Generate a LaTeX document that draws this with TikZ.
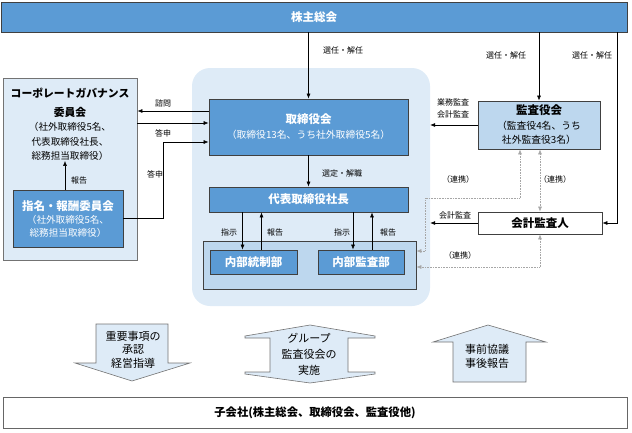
\documentclass[tikz,border=0pt]{standalone}
\usepackage{fontspec}
\setmainfont{Noto Sans CJK JP}
\usetikzlibrary{arrows.meta,calc}

\definecolor{blueD}{HTML}{5B9BD5}
\definecolor{blueL}{HTML}{DEEBF7}
\definecolor{blueM}{HTML}{BDD7EE}
\definecolor{edgeG}{HTML}{404040}
\definecolor{linkG}{HTML}{A6A6A6}

\begin{document}
\begin{tikzpicture}[x=1pt, y=-1pt,
  box/.style={rectangle, draw=edgeG, line width=0.8pt, align=center, inner sep=0pt, font=\fontsize{11.5}{13}\selectfont\bfseries},
  dark/.style={box, fill=blueD, text=white},
  pale/.style={box, fill=blueM, text=black},
  arr/.style={-{Latex[length=5pt,width=4pt]}, line width=0.6pt},
  link/.style={{Latex[length=5pt,width=4pt]}-{Latex[length=5pt,width=4pt]}, densely dotted, line width=0.6pt, draw=linkG},
  lbl/.style={font=\fontsize{8}{10}\selectfont, align=center, inner sep=0pt},
  flow/.style={draw=black!55, line width=0.6pt, fill=blueL},
]
\useasboundingbox (0,0) rectangle (632,432);

% === CENTRAL GROUP AREA ===
\node[rectangle, fill=blueL, rounded corners=18pt, minimum width=238pt, minimum height=238pt] (grp) at (311,187) {};

% === SHAREHOLDERS ===
\node[dark, minimum width=626pt, minimum height=30pt] (sh) at (314,17) {株主総会};

% === LEFT COMMITTEES ===
\node[box, fill=blueL, draw=black!55, minimum width=134pt, minimum height=182pt] (cgcbox) at (70,169) {};
\node[align=center, inner sep=0pt, font=\fontsize{9.6}{14.5}\selectfont] (cgc) at (70,124.5)
  {{\fontsize{10.8}{12}\selectfont\bfseries コーポレートガバナンス}\\[4pt]{\fontsize{10.8}{12}\selectfont\bfseries 委員会}\\（社外取締役5名、\\代表取締役社長、\\総務担当取締役）};
\node[dark, minimum width=110pt, minimum height=57pt, font=\fontsize{9.6}{12.5}\selectfont] (nom) at (68,218.5)
  {{\fontsize{11.5}{12}\selectfont\bfseries 指名・報酬委員会}\\[1pt]（社外取締役5名、\\総務担当取締役）};

% === BOARD AND EXECUTION ===
\node[dark, minimum width=199pt, minimum height=56pt] (brd) at (308.5,127)
  {取締役会\\[2pt]{\fontsize{9.8}{13.5}\selectfont\mdseries（取締役13名、うち社外取締役5名）}};
\node[dark, minimum width=199pt, minimum height=25pt] (pres) at (308.5,199.5) {代表取締役社長};
\node[pale, minimum width=213pt, minimum height=48pt] (ibox) at (309.5,265) {};
\node[dark, minimum width=87pt, minimum height=24pt] (ctl) at (253.5,262) {内部統制部};
\node[dark, minimum width=86pt, minimum height=24pt] (aud) at (361,262) {内部監査部};

% === AUDITORS ===
\node[pale, minimum width=122pt, minimum height=48pt, font=\fontsize{11.5}{14}\selectfont\bfseries] (kan) at (539,125)
  {監査役会\\[1pt]{\fontsize{9.8}{13.5}\selectfont\mdseries（監査役4名、うち}\\{\fontsize{9.8}{13.5}\selectfont\mdseries 社外監査役3名）}};
\node[box, fill=white, minimum width=124pt, minimum height=22pt] (acc) at (540,223) {会計監査人};

% === SUBSIDIARIES ===
\node[box, fill=white, draw=black!60, minimum width=624pt, minimum height=31pt, font=\fontsize{11.3}{12}\selectfont\bfseries] (subco) at (315,412.5) {子会社(株主総会、取締役会、監査役他)};

% === CONNECTORS ===
\coordinate (selR) at (617,32);
\coordinate (ansB) at (163,142);
\coordinate (lk1) at (425,198);
\draw[arr] (brd.north |- sh.south) -- (brd.north);
\draw[arr] (kan.north |- sh.south) -- (kan.north);
\draw[arr] (selR) |- (acc.east);
\draw[arr] ([yshift=16pt]brd.west) -- ([yshift=16pt]brd.west -| cgcbox.east);
\draw[arr] ([yshift=4pt]brd.west -| cgcbox.east) -- ([yshift=4pt]brd.west);
\draw[arr] (nom.east) -| (ansB) -- (ansB -| brd.west);
\draw[arr] ([xshift=-3pt]nom.north) -- ([xshift=-3pt]nom.north |- cgc.south);
\draw[arr] (brd.south) -- (pres.north);
\draw[arr] ([xshift=-11pt]ctl.north |- pres.south) -- ([xshift=-11pt]ctl.north);
\draw[arr] ([xshift=8pt]ctl.north) -- ([xshift=8pt]ctl.north |- pres.south);
\draw[arr] ([xshift=-8pt]aud.north |- pres.south) -- ([xshift=-8pt]aud.north);
\draw[arr] ([xshift=11pt]aud.north) -- ([xshift=11pt]aud.north |- pres.south);
\draw[arr] (kan.west) -- (kan.west -| grp.east);
\draw[arr] (acc.west) -- (acc.west -| grp.east);
\draw[link] ([yshift=14pt]ibox.east) -| (lk1) -| ([xshift=-19pt]kan.south);
\draw[link] (kan.south -| acc.north) -- (acc.north);
\draw[link] (acc.south) |- ([yshift=-2pt]ibox.east);

% === CONNECTOR LABELS ===
\node[lbl] (l1) at (343,50) {選任・解任};
\node[lbl] (l2) at (506,55) {選任・解任};
\node[lbl] (l3) at (592,55) {選任・解任};
\node[lbl] (l4) at (163,103) {諮問};
\node[lbl] (l5) at (163,133) {答申};
\node[lbl] (l6) at (155,174) {答申};
\node[lbl] (l7) at (79,180) {報告};
\node[lbl] (l8) at (342,173) {選定・解職};
\node[lbl] (l9) at (229,232) {指示};
\node[lbl] (l10) at (275,232) {報告};
\node[lbl] (l11) at (342,232) {指示};
\node[lbl] (l12) at (388,232) {報告};
\node[lbl, font=\fontsize{8}{12}\selectfont] (l13) at (453,108) {業務監査\\会計監査};
\node[lbl] (l14) at (458,179) {（連携）};
\node[lbl] (l15) at (555,179) {（連携）};
\node[lbl] (l16) at (455,215) {会計監査};
\node[lbl] (l17) at (460,255) {（連携）};

% === GROUP FLOWS ===
\draw[flow] (96,324) -- (168,324) -- (168,363) -- (190,363) -- (132,381) -- (75,363) -- (96,363) -- cycle;
\draw[flow] (310,325) -- (375,336) -- (375,338) -- (348,338) -- (348,372) -- (375,372) -- (375,374) -- (310,383)
  -- (245,374) -- (245,372) -- (270,372) -- (270,338) -- (245,338) -- (245,336) -- cycle;
\draw[flow] (488,325) -- (546,342) -- (526,342) -- (526,382) -- (453,382) -- (453,342) -- (433,342) -- cycle;
\node[align=center, font=\fontsize{11}{13.5}\selectfont] (dn) at (133,349.5) {重要事項の\\承認\\経営指導};
\node[align=center, font=\fontsize{11}{16}\selectfont] (bi) at (309,354) {グループ\\監査役会の\\実施};
\node[align=center, font=\fontsize{11}{13.5}\selectfont] (up) at (487,356.5) {事前協議\\事後報告};
\end{tikzpicture}
\end{document}
